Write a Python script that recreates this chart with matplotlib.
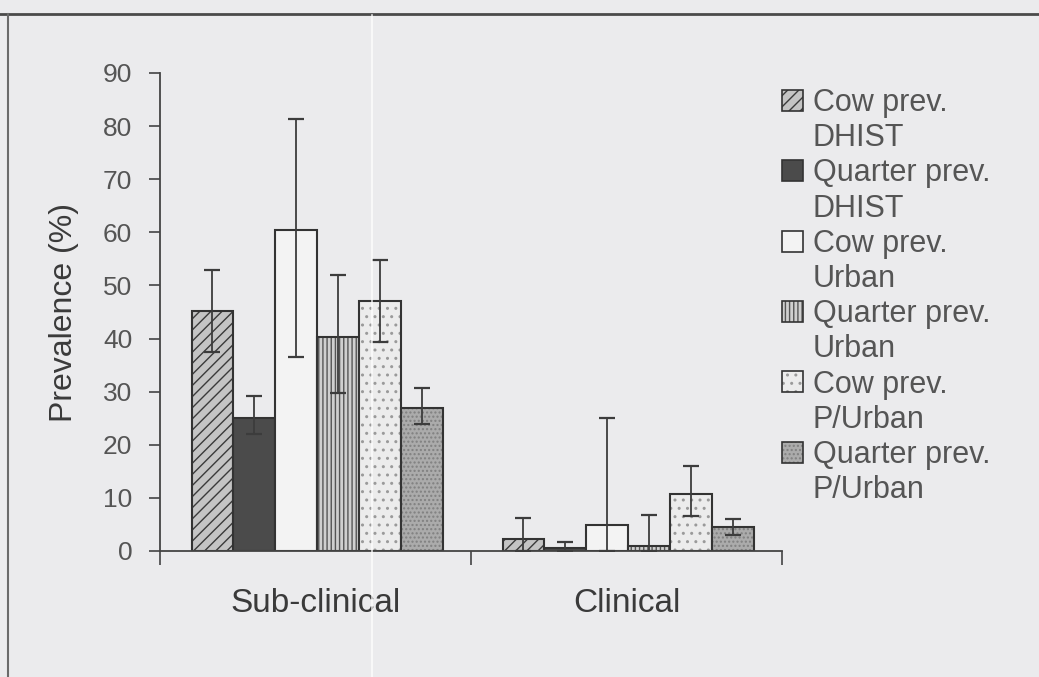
import matplotlib.pyplot as plt
import numpy as np
from matplotlib.patches import Patch
from matplotlib.lines import Line2D

plt.rcParams['font.family'] = ['Liberation Sans', 'DejaVu Sans']
plt.rcParams['hatch.linewidth'] = 1.0

# data
categories = ['Sub-clinical', 'Clinical']
measures = ['Cow prev.', 'Quarter prev.', 'Cow prev.', 'Quarter prev.', 'Cow prev.', 'Quarter prev.']
herds = ['DHIST', 'DHIST', 'Urban', 'Urban', 'P/Urban', 'P/Urban']
sub_vals = [45.2, 25.0, 60.5, 40.3, 47.0, 27.0]
sub_low = [37.5, 22.0, 36.6, 29.7, 39.4, 24.0]
sub_high = [52.9, 29.1, 81.3, 52.0, 54.8, 30.6]
clin_vals = [2.2, 0.6, 4.9, 1.0, 10.7, 4.5]
clin_low = [0.0, 0.0, 0.0, 0.0, 6.5, 3.0]
clin_high = [6.2, 1.75, 25.0, 6.8, 16.0, 6.1]

faces = ['#c4c4c4', '#4b4b4b', '#f3f3f3', '#cfcfcf', '#ececec', '#ababab']
hatches = ['///', None, None, '||||', '..', '....']
hatch_cols = ['#3a3a3a', '#4b4b4b', '#f3f3f3', '#555555', '#9a9a9a', '#808080']
bg = '#ebebed'
txt = '#555555'

fig = plt.figure(figsize=(10.39, 6.77), dpi=100, facecolor=bg)
ax = fig.add_axes([160 / 1039, 1 - 551 / 677, 622 / 1039, 478 / 677])
ax.set_facecolor('none')

x = np.arange(len(categories))
w = 0.1345
for i in range(6):
    vals = [sub_vals[i], clin_vals[i]]
    lo = [sub_vals[i] - sub_low[i], clin_vals[i] - clin_low[i]]
    hi = [sub_high[i] - sub_vals[i], clin_high[i] - clin_vals[i]]
    xpos = x + (i - 2.5) * w + 0.005
    # fill with pattern, then the outline on top
    ax.bar(xpos, vals, w, color=faces[i], edgecolor=hatch_cols[i], linewidth=0,
           hatch=hatches[i], zorder=2)
    ax.bar(xpos, vals, w, facecolor='none', edgecolor='#333333', linewidth=1.5, zorder=2)
    ax.errorbar(xpos, vals, yerr=[lo, hi], fmt='none', ecolor='#3c3c3c',
                elinewidth=1.3, capsize=6, capthick=1.6, zorder=3)

ax.set_xlim(-0.5, 1.5)
ax.set_ylim(0, 90)
ax.set_yticks(np.arange(0, 91, 10))
ax.tick_params(axis='y', direction='out', length=8, width=1.2, color='#444444',
               labelsize=19, labelcolor=txt, pad=12)
ax.set_xticks([-0.5, 0.5, 1.5])
ax.set_xticklabels([])
ax.tick_params(axis='x', which='major', direction='out', length=10, width=1.2, color='#444444')
ax.set_xticks(x, minor=True)
ax.set_xticklabels(categories, minor=True)
ax.tick_params(axis='x', which='minor', length=0, labelsize=24, labelcolor='#3a3a3a', pad=27)
for s in ['top', 'right']:
    ax.spines[s].set_visible(False)
for s in ['left', 'bottom']:
    ax.spines[s].set_color('#444444')
    ax.spines[s].set_linewidth(1.3)
ax.set_ylabel('Prevalence (%)', fontsize=23, color='#3a3a3a', labelpad=17)

handles = []
labels = []
for i in range(6):
    handles.append((Patch(facecolor=faces[i], edgecolor=hatch_cols[i], hatch=hatches[i], linewidth=0),
                    Patch(facecolor='none', edgecolor='#333333', linewidth=1.2)))
    labels.append(measures[i])
    handles.append(Patch(facecolor='none', edgecolor='none'))
    labels.append(herds[i])
leg = ax.legend(handles, labels, loc='upper left', bbox_to_anchor=(782 / 1039, 1 - 88 / 677),
                bbox_transform=fig.transFigure, frameon=False, fontsize=22,
                handlelength=0.68, handleheight=0.68, handletextpad=0.32,
                labelspacing=0.17, borderpad=0, borderaxespad=0)
for t in leg.get_texts():
    t.set_color(txt)

# scan frame lines
fig.add_artist(Line2D([0, 1], [1 - 14 / 677, 1 - 14 / 677], transform=fig.transFigure,
                      color='#4a4a4a', lw=2))
fig.add_artist(Line2D([8 / 1039, 8 / 1039], [0, 1 - 14 / 677], transform=fig.transFigure,
                      color='#6a6a6a', lw=1.5))
fig.add_artist(Line2D([372 / 1039, 372 / 1039], [0, 1 - 15 / 677], transform=fig.transFigure,
                      color='white', lw=1.2, alpha=0.8, zorder=5))

fig.savefig('out.png', dpi=100, facecolor=bg)
